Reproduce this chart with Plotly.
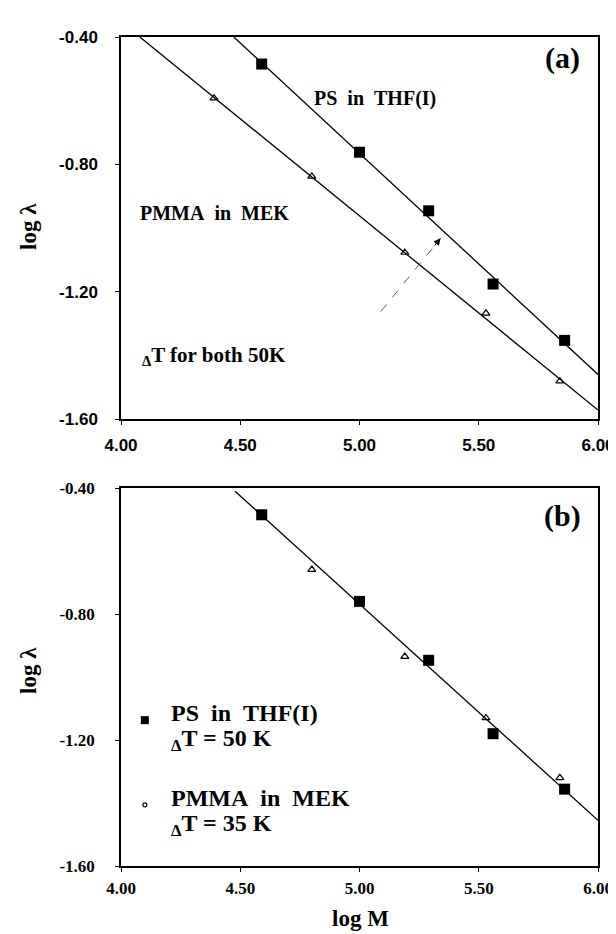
import plotly.graph_objects as go
from plotly.subplots import make_subplots

# log M of the samples
ps_logm = [4.59, 5.00, 5.29, 5.56, 5.86]
pmma_logm = [4.39, 4.80, 5.19, 5.53, 5.84]
pmma_logm_b = [4.80, 5.19, 5.53, 5.84]

# log lambda values
ps_loglam = [-0.485, -0.762, -0.946, -1.176, -1.353]
pmma_loglam_a = [-0.592, -0.838, -1.077, -1.268, -1.481]
ps_loglam_b = [-0.485, -0.760, -0.947, -1.180, -1.356]
pmma_loglam_b = [-0.659, -0.935, -1.130, -1.320]

# fitted straight lines (end points)
ps_fit_x = [4.473, 6.0]
ps_fit_y = [-0.40, -1.460]
pmma_fit_x = [4.079, 6.0]
pmma_fit_y = [-0.40, -1.572]
both_fit_x = [4.478, 6.0]
both_fit_y = [-0.41, -1.455]

# shift arrow in panel (a)
arrow_x = [5.09, 5.34]
arrow_y = [-1.262, -1.032]

x_ticks = [4.0, 4.5, 5.0, 5.5, 6.0]
x_ticktext = ["4.00", "4.50", "5.00", "5.50", "6.00"]
y_ticks = [-0.4, -0.8, -1.2, -1.6]
y_ticktext = ["-0.40", "-0.80", "-1.20", "-1.60"]

SERIF = "Liberation Serif"
SANS = "Liberation Sans"

W, H = 616, 934
x_dom = [113 / W, 590 / W]
ya_dom = [1 - 411 / H, 1 - 29 / H]
yb_dom = [1 - 858 / H, 1 - 480 / H]

fig = make_subplots(rows=2, cols=1)

line_style = dict(color="black", width=1.3)
sq = dict(symbol="square", size=11, color="black")
tri = dict(symbol="triangle-up-open", size=7, color="black", line=dict(color="black", width=1.2))

# panel (a)
fig.add_trace(go.Scatter(x=ps_fit_x, y=ps_fit_y, mode="lines", line=line_style), row=1, col=1)
fig.add_trace(go.Scatter(x=pmma_fit_x, y=pmma_fit_y, mode="lines", line=line_style), row=1, col=1)
fig.add_trace(go.Scatter(x=ps_logm, y=ps_loglam, mode="markers", marker=sq), row=1, col=1)
fig.add_trace(go.Scatter(x=pmma_logm, y=pmma_loglam_a, mode="markers", marker=tri), row=1, col=1)
fig.add_trace(go.Scatter(x=arrow_x, y=arrow_y, mode="lines",
                         line=dict(color="#333", width=0.8, dash="dash")), row=1, col=1)

# panel (b)
fig.add_trace(go.Scatter(x=both_fit_x, y=both_fit_y, mode="lines", line=line_style), row=2, col=1)
fig.add_trace(go.Scatter(x=ps_logm, y=ps_loglam_b, mode="markers", marker=sq), row=2, col=1)
fig.add_trace(go.Scatter(x=pmma_logm_b, y=pmma_loglam_b, mode="markers", marker=tri), row=2, col=1)
# legend symbols drawn inside the frame
fig.add_trace(go.Scatter(x=[4.10], y=[-1.137], mode="markers",
                         marker=dict(symbol="square", size=8, color="black")), row=2, col=1)
fig.add_trace(go.Scatter(x=[4.10], y=[-1.406], mode="markers",
                         marker=dict(symbol="circle-open", size=4, color="black",
                                     line=dict(color="black", width=1.2))), row=2, col=1)


def axis_common(tick_family, standoff):
    return dict(showline=True, linecolor="black", linewidth=1.5, mirror=True,
                showgrid=False, zeroline=False, ticks="outside", ticklen=4,
                tickcolor="black", automargin=False, ticklabelstandoff=standoff,
                tickfont=dict(family=tick_family, size=17, color="black"))


fig.update_xaxes(range=[4.0, 6.0], tickvals=x_ticks,
                 ticktext=["<b>%s</b>" % t for t in x_ticktext], domain=x_dom)
fig.update_yaxes(range=[-1.6, -0.4], tickvals=y_ticks,
                 ticktext=["<b>%s</b>" % t for t in y_ticktext])
fig.update_layout(
    xaxis=axis_common(SANS, 6),
    yaxis=dict(**axis_common(SANS, 14), domain=ya_dom),
    xaxis2=axis_common(SERIF, 2),
    yaxis2=dict(**axis_common(SERIF, 17), domain=yb_dom),
)

ann = []


def label(text, x, y, ref, size, anchor="left"):
    ann.append(dict(text=text, x=x, y=y, xref="x" + ref, yref="y" + ref,
                    xanchor=anchor, yanchor="middle", showarrow=False,
                    font=dict(family=SERIF, size=size, color="black")))


# texts of panel (a)
label("<b>(a)</b>", 5.85, -0.466, "", 30, "center")
label("<b>PS&nbsp;&nbsp;in&nbsp;&nbsp;THF(I)</b>", 4.80, -0.592, "", 20)
label("<b>PMMA&nbsp;&nbsp;in&nbsp;&nbsp;MEK</b>", 4.07, -0.953, "", 20)
label("<b><sub>Δ</sub>T for both 50K</b>", 4.08, -1.403, "", 21)

# texts of panel (b)
label("<b>(b)</b>", 5.85, -0.489, "2", 30, "center")
label("<b>PS&nbsp;&nbsp;in&nbsp;&nbsp;THF(I)</b>", 4.20, -1.114, "2", 24)
label("<b><sub>Δ</sub>T = 50 K</b>", 4.20, -1.20, "2", 24)
label("<b>PMMA&nbsp;&nbsp;in&nbsp;&nbsp;MEK</b>", 4.20, -1.384, "2", 24)
label("<b><sub>Δ</sub>T = 35 K</b>", 4.20, -1.47, "2", 24)

# arrow head
ann.append(dict(x=arrow_x[1], y=arrow_y[1], ax=5.31, ay=-1.060, xref="x", yref="y",
                axref="x", ayref="y", text="", showarrow=True, arrowhead=2,
                arrowsize=1.4, arrowwidth=1, arrowcolor="black"))

# axis titles
for yc in [1 - 218 / H, 1 - 662 / H]:
    ann.append(dict(text="<b>log λ</b>", x=20 / W, y=yc, xref="paper", yref="paper",
                    textangle=-90, showarrow=False, xanchor="center", yanchor="middle",
                    font=dict(family=SERIF, size=23, color="black")))
ann.append(dict(text="<b>log M</b>", x=352 / W, y=1 - 910 / H, xref="paper", yref="paper",
                showarrow=False, xanchor="center", yanchor="middle",
                font=dict(family=SERIF, size=23, color="black")))

fig.update_layout(
    width=W, height=H,
    margin=dict(l=0, r=0, t=0, b=0),
    paper_bgcolor="white", plot_bgcolor="white",
    showlegend=False,
    annotations=ann,
)

fig.write_html("out.html")
